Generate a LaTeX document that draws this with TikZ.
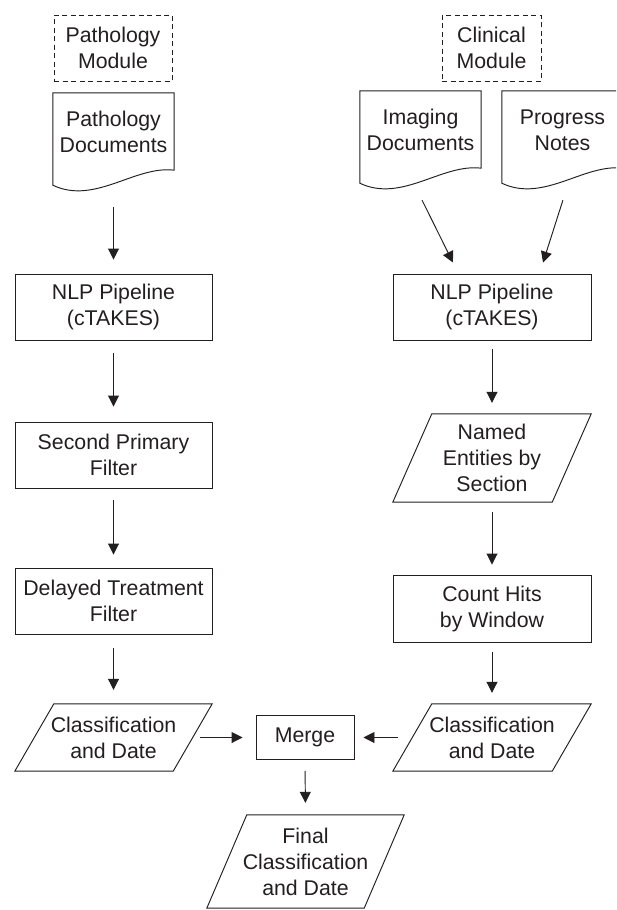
\documentclass[tikz,border=0pt]{standalone}
\usepackage{fontspec}
\setmainfont{Liberation Sans}
\usetikzlibrary{arrows.meta,calc}
\definecolor{ink}{RGB}{35,31,32}
\newcommand\drawpara[2]{\draw[shp] ($(#1.north west)+(#2,0)$) -- (#1.north east) -- ($(#1.south east)+(-#2,0)$) -- (#1.south west) -- cycle;}
\newcommand\drawdoc[1]{\draw[shp] ($(#1.south west)+(0,14)$) -- (#1.north west) -- (#1.north east) -- ($(#1.south east)+(0,-1)$) .. controls ($(#1.south east)+(-39,-6)$) and ($(#1.south west)+(42,34)$) .. ($(#1.south west)+(0,14)$) -- cycle;}
\begin{document}
\begin{tikzpicture}[x=1pt,y=-1pt,
  every node/.style={font=\fontsize{21.3}{26}\selectfont, align=center, inner sep=0pt, text=ink},
  box/.style={draw=ink, rectangle, line width=0.95pt, minimum width=197pt, minimum height=66pt},
  dbox/.style={draw=ink, rectangle, dash pattern=on 5pt off 3.5pt, line width=0.95pt, minimum width=118pt, minimum height=66pt},
  docnode/.style={minimum width=121pt, minimum height=78pt},
  paranode/.style={minimum width=197pt, minimum height=67pt},
  shp/.style={draw=ink, line width=0.95pt, line join=miter},
  arr/.style={draw=ink, -{Triangle[length=11pt,width=11pt]}, line width=0.95pt},
]
\clip (0,0) rectangle (616,910);
\fill[white] (0,0) rectangle (616,910);

% modules
\node[dbox] (pm) at (113,48) {Pathology\\Module};
\node[dbox, minimum width=99pt] (cm) at (491.5,48) {Clinical\\Module};

% documents
\node[docnode] (pd) at (113.5,132) {Pathology\\Documents};
\node[docnode] (id) at (420.5,130) {Imaging\\Documents};
\node[docnode] (pn) at (562.5,130) {Progress\\Notes};
\drawdoc{pd}
\drawdoc{id}
\drawdoc{pn}

% left column
\node[box] (n1) at (113.5,307) {NLP Pipeline\\(cTAKES)};
\node[box] (s2) at (113.5,455) {Second Primary\\Filter};
\node[box] (dt) at (113.5,601) {Delayed Treatment\\Filter};
\node[paranode] (c1) at (113.5,737.5) {Classification\\and Date};
\drawpara{c1}{39}

% right column
\node[box, minimum width=198pt] (n2) at (492,307) {NLP Pipeline\\(cTAKES)};
\node[paranode, minimum width=198pt, minimum height=88pt] (ne) at (492,458) {Named\\Entities by\\Section};
\drawpara{ne}{39}
\node[box, minimum width=198pt, minimum height=67pt] (ch) at (492,608.5) {Count Hits\\by Window};
\node[paranode, minimum width=198pt] (c2) at (492,737.5) {Classification\\and Date};
\drawpara{c2}{39}

% merge and final
\node[box, minimum width=98pt, minimum height=44pt] (m) at (305,737.5) {Merge};
\node[paranode, minimum height=93pt] (f) at (305.5,861.5) {Final\\Classification\\and Date};
\drawpara{f}{40}

% connectors
\draw[arr, shorten <=36pt, shorten >=14pt] (pd.south) -- (n1.north);
\draw[arr, shorten <=13pt, shorten >=15pt] (n1.south) -- (s2.north);
\draw[arr, shorten <=12pt, shorten >=13pt] (s2.south) -- (dt.north);
\draw[arr, shorten <=14pt, shorten >=14pt] (dt.south) -- (c1.north);

\draw[arr, shorten <=34.5pt, shorten >=12.3pt] ([xshift=-13.8pt]id.south) -- ([xshift=-33.6pt]n2.north);
\draw[arr, shorten <=32.5pt, shorten >=11.5pt] ([xshift=10.3pt]pn.south) -- ([xshift=47.5pt]n2.north);
\draw[arr, shorten <=9pt, shorten >=11pt] (n2.south) -- (ne.north);
\draw[arr, shorten <=10pt, shorten >=10pt] (ne.south) -- (ch.north);
\draw[arr, shorten <=10pt, shorten >=11pt] (ch.south) -- (c2.north);

\draw[arr, shorten >=13pt] ([xshift=-12pt]c1.east) -- (m.west);
\draw[arr, shorten >=9pt] ([xshift=5pt]c2.west) -- (m.east);
\draw[arr, shorten <=11pt, shorten >=12pt] (m.south) -- (f.north);
\end{tikzpicture}
\end{document}
